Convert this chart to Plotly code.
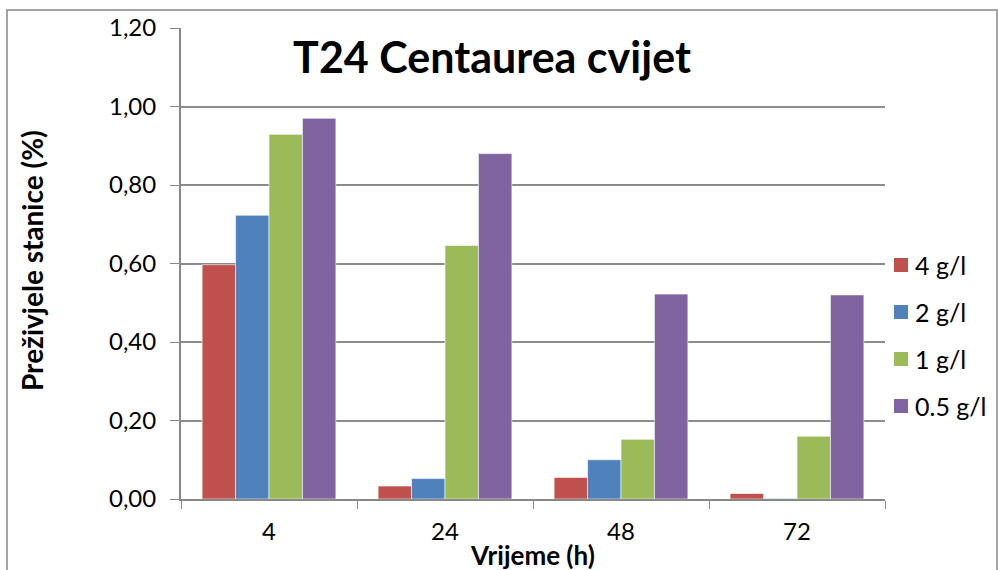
import plotly.graph_objects as go

categories = ["4", "24", "48", "72"]
series_names = ["4 g/l", "2 g/l", "1 g/l", "0.5 g/l"]
v_4 = [0.597, 0.033, 0.055, 0.014]
v_2 = [0.723, 0.052, 0.100, 0.001]
v_1 = [0.929, 0.646, 0.152, 0.160]
v_05 = [0.970, 0.880, 0.522, 0.520]
colors = ["#C0504D", "#4F81BD", "#9BBB59", "#8064A2"]
yticks = [0, 0.2, 0.4, 0.6, 0.8, 1.0, 1.2]
ytick_text = ["0,00", "0,20", "0,40", "0,60", "0,80", "1,00", "1,20"]

FONT = "Lato, Open Sans, Liberation Sans, sans-serif"

fig = go.Figure()
for name, vals, col in zip(series_names, [v_4, v_2, v_1, v_05], colors):
    fig.add_trace(go.Bar(x=categories, y=vals, name=name, showlegend=False,
                         marker=dict(color=col, line=dict(color="rgba(255,255,255,0.6)", width=1))))

L, R, T, B = 181, 113, 28, 71
W, H = 998, 570
pw = W - L - R
ph = H - T - B


def px(x):
    return (x - L) / pw


def py(y):
    return (H - B - y) / ph


annotations = [
    dict(text="<b>Preživjele stanice (%)</b>", xref="paper", yref="paper",
         x=px(32), y=py(261), xanchor="center", yanchor="middle",
         textangle=-90, showarrow=False, font=dict(size=28)),
    dict(text="<b>Vrijeme (h)</b>", xref="paper", yref="paper",
         x=px(532), y=py(555), xanchor="center", yanchor="middle",
         showarrow=False, font=dict(size=26)),
]
shapes = [dict(type="rect", xref="paper", yref="paper",
               x0=px(7), x1=px(997), y0=py(572), y1=py(10),
               line=dict(color="#868686", width=1.5), fillcolor="rgba(0,0,0,0)", layer="below")]

# legend built from the series names and colours
leg_y = [265, 312, 359, 406]
for name, col, yc in zip(series_names, colors, leg_y):
    shapes.append(dict(type="rect", xref="paper", yref="paper",
                       x0=px(894), x1=px(908), y0=py(yc + 7), y1=py(yc - 7),
                       line=dict(width=0), fillcolor=col))
    annotations.append(dict(text=name, xref="paper", yref="paper", x=px(913), y=py(yc),
                            xanchor="left", yanchor="middle", showarrow=False,
                            font=dict(size=25)))

fig.update_layout(
    width=W, height=H,
    margin=dict(l=L, r=R, t=T, b=B),
    paper_bgcolor="white", plot_bgcolor="white",
    barmode="group", bargap=0.24, bargroupgap=0,
    font=dict(family=FONT, size=24, color="black"),
    showlegend=False,
    title=dict(text="<b>T24 Centaurea cvijet</b>", x=492 / W, xanchor="center",
               y=1 - 58 / H, yanchor="middle", font=dict(size=43, family=FONT)),
    xaxis=dict(type="category", tickson="boundaries", ticks="outside", ticklen=8,
               tickcolor="#888888", showline=True, linecolor="#888888", linewidth=2,
               showgrid=False, tickfont=dict(size=24), ticklabelstandoff=10),
    yaxis=dict(range=[0, 1.2], tickvals=yticks, ticktext=ytick_text, ticks="outside",
               ticklen=9, tickcolor="#888888", showline=True, linecolor="#888888",
               linewidth=2, showgrid=True, gridcolor="#8c8c8c", gridwidth=2,
               zeroline=False, tickfont=dict(size=24), ticklabelstandoff=9),
    annotations=annotations,
    shapes=shapes,
)

fig.write_html("out.html", config={"displayModeBar": False},
               post_script="document.body.style.margin='0';")
